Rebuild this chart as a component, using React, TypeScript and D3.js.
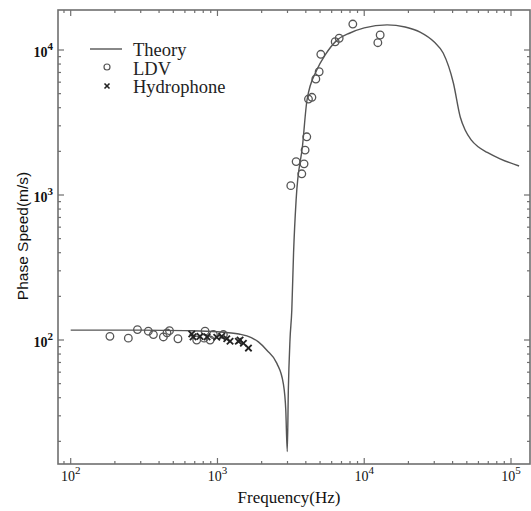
import { scaleLog, line, curveMonotoneX, range } from "d3";

// theory curve (frequency Hz, phase speed m/s)
const theoryFreq = [
    100, 300, 600, 1000, 1400, 1700, 1900, 2170, 2540, 2810, 2920, 2990,
    3040, 3120, 3210, 3300, 3435, 3800, 4075, 4750, 5420, 6530, 8000, 10000,
    14300, 19000, 24000, 30000, 34500, 40500, 45100, 48700, 53500, 59700,
    68900, 84300, 113500,
];
const theorySpeed = [
    117, 117, 116, 114, 110, 104, 97, 85, 69, 50, 33, 17,
    45, 100, 161, 400, 925, 2200, 4520, 7280, 9250, 11700, 13100, 14200,
    14900, 14400, 13300, 11350, 9530, 5920, 3450, 2805, 2400, 2150,
    1965, 1775, 1585,
];

// LDV measurements
const ldvFreq = [
    185, 247, 285, 338, 366, 428, 453, 471, 538, 722, 823, 811, 891, 938, 1097,
    3160, 3435, 3890, 3755, 3955, 4060, 4170, 4400, 4680, 4930, 5060, 6340,
    6750, 8360, 12380, 12840,
];
const ldvSpeed = [
    106, 103, 118, 115, 109, 105, 112, 116, 102, 100, 115, 103, 100, 109, 109,
    1160, 1700, 1640, 1400, 2040, 2520, 4590, 4720, 6310, 7080, 9340, 11400,
    12050, 15100, 11230, 12690,
];

// Hydrophone measurements
const hydFreq = [668, 682, 760, 849, 989, 1069, 1157, 1218, 1388, 1425, 1502, 1626];
const hydSpeed = [110, 105, 106, 105, 104.5, 106, 102, 98, 98, 100, 95, 88];

const xDecades = [100, 1000, 10000, 100000];
const xExp = ["2", "3", "4", "5"];
const yDecades = [100, 1000, 10000];
const yExp = ["2", "3", "4"];

const legendLabels = ["Theory", "LDV", "Hydrophone"];

const W = 531;
const H = 511;
const frameLeft = 58;
const frameRight = 530;
const frameTop = 10;
const frameBottom = 464;

const axisColor = "#6f6f6f";
const markColor = "#555";

function minorTicks(lo: number, hi: number) {
    const out: number[] = [];
    for (let d = lo; d <= hi; d *= 10) {
        for (const m of range(2, 10)) out.push(d * m);
    }
    return out;
}

function Chart() {
    const x = scaleLog().domain([100, 100000]).range([70.7, 511]);
    const y = scaleLog().domain([100, 10000]).range([340, 50]);

    const xMinor = minorTicks(10, 100000).filter(
        (v) => x(v) > frameLeft && x(v) < frameRight,
    );
    const yMinor = minorTicks(10, 10000).filter(
        (v) => y(v) > frameTop && y(v) < frameBottom,
    );

    const pts = theoryFreq.map((f, i) => [f, theorySpeed[i]] as [number, number]);
    const theoryLine = line<[number, number]>()
        .x((d) => x(d[0]))
        .y((d) => y(d[1]))
        .curve(curveMonotoneX);

    const font = "'Liberation Serif', 'Times New Roman', serif";

    return (
        <svg width={W} height={H} style={{ position: "absolute", left: 0, top: 0 }}>
            <rect width={W} height={H} fill="#fff" />
            {/* frame */}
            <rect
                x={frameLeft}
                y={frameTop}
                width={frameRight - frameLeft}
                height={frameBottom - frameTop}
                fill="none"
                stroke={axisColor}
                strokeWidth={1.6}
            />
            {/* ticks on all four sides, pointing in */}
            <g stroke={axisColor} strokeWidth={1.2}>
                {xDecades.map((d) => (
                    <g key={"xd" + d}>
                        <line x1={x(d)} x2={x(d)} y1={frameBottom} y2={frameBottom - 6} />
                        <line x1={x(d)} x2={x(d)} y1={frameTop} y2={frameTop + 6} />
                    </g>
                ))}
                {xMinor.map((d) => (
                    <g key={"xm" + d}>
                        <line x1={x(d)} x2={x(d)} y1={frameBottom} y2={frameBottom - 3} />
                        <line x1={x(d)} x2={x(d)} y1={frameTop} y2={frameTop + 3} />
                    </g>
                ))}
                {yDecades.map((d) => (
                    <g key={"yd" + d}>
                        <line x1={frameLeft} x2={frameLeft + 6} y1={y(d)} y2={y(d)} />
                        <line x1={frameRight} x2={frameRight - 6} y1={y(d)} y2={y(d)} />
                    </g>
                ))}
                {yMinor.map((d) => (
                    <g key={"ym" + d}>
                        <line x1={frameLeft} x2={frameLeft + 3} y1={y(d)} y2={y(d)} />
                        <line x1={frameRight} x2={frameRight - 3} y1={y(d)} y2={y(d)} />
                    </g>
                ))}
            </g>
            {/* tick labels */}
            <g fontFamily={font} fill="#111" fontSize={14}>
                {xDecades.map((d, i) => (
                    <text key={"xl" + d} x={x(d)} y={481} textAnchor="middle">
                        10<tspan dy={-7} fontSize={11}>{xExp[i]}</tspan>
                    </text>
                ))}
                {yDecades.map((d, i) => (
                    <text key={"yl" + d} x={53} y={y(d) + 7} textAnchor="end" fontWeight={600}>
                        10<tspan dy={-7} fontSize={11}>{yExp[i]}</tspan>
                    </text>
                ))}
            </g>
            {/* axis titles */}
            <text
                x={289}
                y={503}
                textAnchor="middle"
                fontFamily={font}
                fontSize={17}
                fill="#111"
            >
                Frequency(Hz)
            </text>
            <text
                transform="translate(28,236) rotate(-90)"
                textAnchor="middle"
                fontFamily="'Liberation Sans', Arial, sans-serif"
                fontSize={15.5}
                fill="#111"
            >
                Phase Speed(m/s)
            </text>
            {/* theory curve */}
            <path d={theoryLine(pts) ?? ""} fill="none" stroke={markColor} strokeWidth={1.4} />
            {/* LDV */}
            <g fill="none" stroke={markColor} strokeWidth={1.3}>
                {ldvFreq.map((f, i) => (
                    <circle key={"c" + i} cx={x(f)} cy={y(ldvSpeed[i])} r={3.8} />
                ))}
            </g>
            {/* Hydrophone */}
            <g stroke="#222" strokeWidth={1.8}>
                {hydFreq.map((f, i) => {
                    const cx = x(f);
                    const cy = y(hydSpeed[i]);
                    return (
                        <g key={"h" + i}>
                            <line x1={cx - 3.2} x2={cx + 3.2} y1={cy - 3.2} y2={cy + 3.2} />
                            <line x1={cx - 3.2} x2={cx + 3.2} y1={cy + 3.2} y2={cy - 3.2} />
                        </g>
                    );
                })}
            </g>
            {/* legend */}
            <g fontFamily={font} fontSize={18.5} fill="#222">
                <line x1={90} x2={122} y1={49} y2={49} stroke={markColor} strokeWidth={1.4} />
                <circle cx={107} cy={67} r={3} fill="none" stroke={markColor} strokeWidth={1.2} />
                <g stroke="#222" strokeWidth={1.6}>
                    <line x1={104.5} x2={109.5} y1={83.5} y2={88.5} />
                    <line x1={104.5} x2={109.5} y1={88.5} y2={83.5} />
                </g>
                {legendLabels.map((t, i) => (
                    <text key={t} x={133} y={56 + i * 18.5}>
                        {t}
                    </text>
                ))}
            </g>
        </svg>
    );
}

export default function App() {
    return (
        <div>
            <Chart />
        </div>
    );
}
